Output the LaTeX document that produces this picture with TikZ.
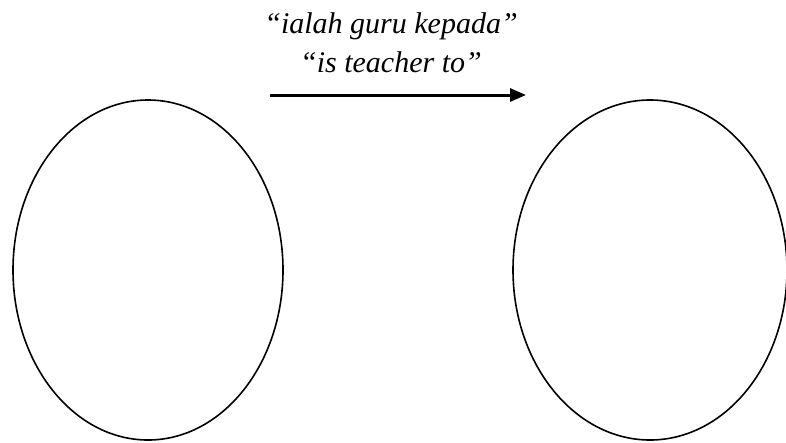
\documentclass[tikz,border=0pt]{standalone}
\usepackage{fontspec}
\setmainfont{Liberation Serif}
\usetikzlibrary{shapes.geometric,arrows.meta}
\begin{document}
\begin{tikzpicture}[x=1pt,y=-1pt,
  setoval/.style={draw=black,line width=1.6pt,ellipse,inner sep=0pt,
    minimum width=270pt,minimum height=340pt},
  relarrow/.style={line width=3pt,-{Triangle[length=16pt,width=13pt]}},
  rellabel/.style={align=center,font=\fontsize{30}{39}\selectfont\itshape,inner sep=0pt}]
\useasboundingbox (0,0) rectangle (786,442);
\node[setoval] (left) at (148,270) {};
\node[setoval,minimum width=274pt] (right) at (650,270) {};
\node[rellabel] (lbl) at (391,43) {``ialah guru kepada''\\``is teacher to''};
\coordinate (a0) at (270,95);
\coordinate (a1) at (526,95);
\draw[relarrow] (a0) -- (a1);
\end{tikzpicture}
\end{document}
